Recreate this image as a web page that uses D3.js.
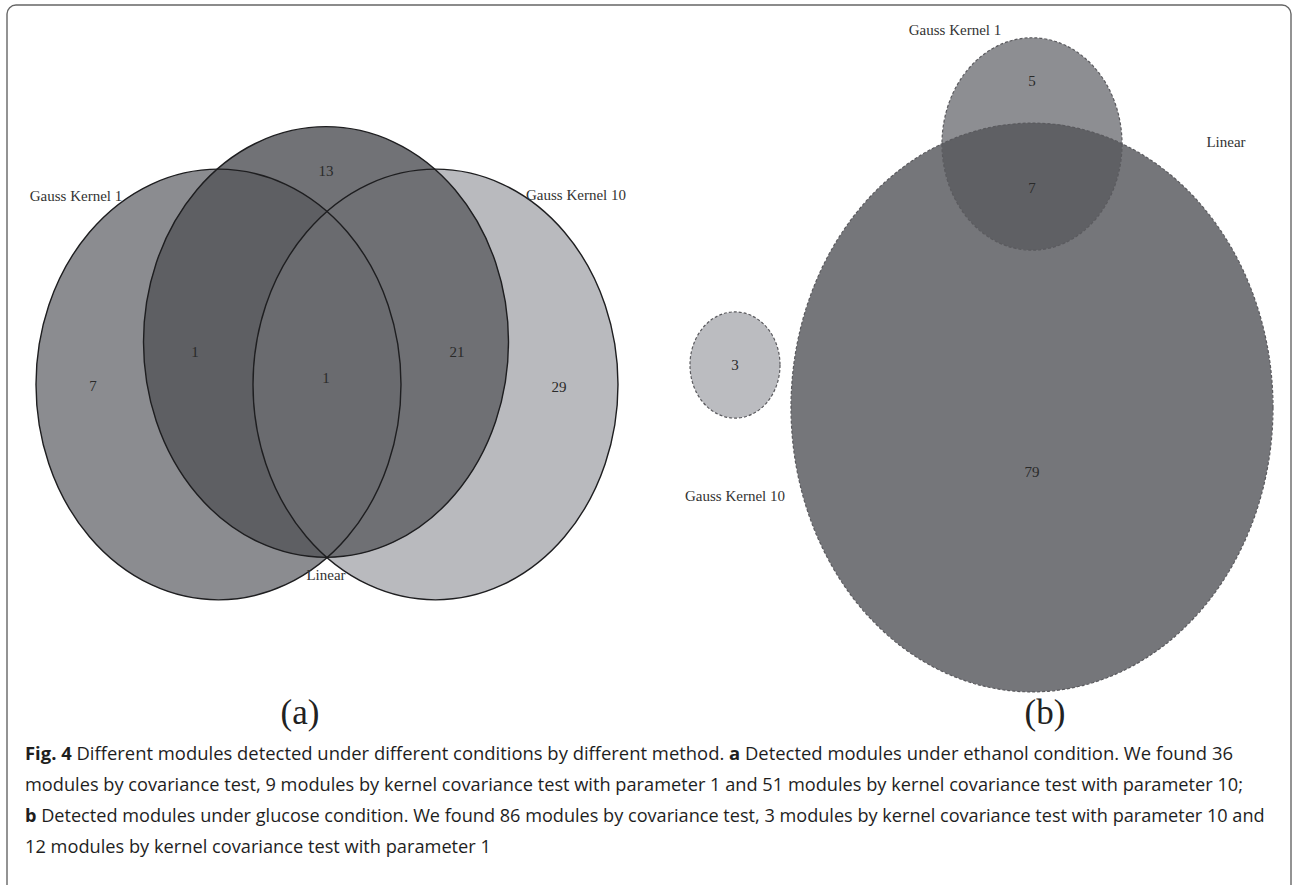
<!DOCTYPE html>
<html><head><meta charset="utf-8">
<script src="https://cdn.jsdelivr.net/npm/d3@7"></script>
<style>html,body{margin:0;padding:0;background:#fff;} svg{display:block}</style>
</head><body><svg id="fig" width="1294" height="885"></svg>
<script>
// ---------- data ----------
const setsA = ["Gauss Kernel 1", "Linear", "Gauss Kernel 10"];
const setSizesA = [9, 36, 51];
const regionsA = ["G1 only", "G1 & Linear", "Linear only", "All three", "Linear & G10", "G10 only"];
const countsA = [7, 1, 13, 1, 21, 29];

const setsB = ["Gauss Kernel 1", "Linear", "Gauss Kernel 10"];
const setSizesB = [12, 86, 3];
const regionsB = ["G1 only", "G1 & Linear", "Linear only", "G10 only"];
const countsB = [5, 7, 79, 3];

const panelLabels = ["(a)", "(b)"];
const captionLines = [
  [["Fig. 4", true], [" Different modules detected under different conditions by different method. ", false], ["a", true], [" Detected modules under ethanol condition. We found 36", false]],
  [["modules by covariance test, 9 modules by kernel covariance test with parameter 1 and 51 modules by kernel covariance test with parameter 10;", false]],
  [["b", true], [" Detected modules under glucose condition. We found 86 modules by covariance test, 3 modules by kernel covariance test with parameter 10 and", false]],
  [["12 modules by kernel covariance test with parameter 1", false]]
];

// ---------- layout ----------
const svg = d3.select("#fig");
const defs = svg.append("defs");
const serif = "'Liberation Serif', 'Times New Roman', serif";
const stretch = 1.18;

// frame
svg.append("rect").attr("x", 7).attr("y", 5).attr("width", 1284).attr("height", 920)
  .attr("rx", 9).attr("fill", "none").attr("stroke", "#666").attr("stroke-width", 1.4);

// ---------- panel A ----------
const gA = svg.append("g");
const centersA = [[218.5, 384.5], [326, 342], [435.5, 384.5]];
const rxA = d3.scaleOrdinal().domain(setsA).range([182.5, 182.5, 182.5]);
const fillA = d3.scaleOrdinal().domain(setsA).range(["#8b8c90", "#717276", "#b9babe"]);
const ellA = setsA.map((s, i) => ({name: s, size: setSizesA[i], cx: centersA[i][0], cy: centersA[i][1], rx: rxA(s), ry: rxA(s) * stretch}));

ellA.forEach((e, i) => {
  defs.append("clipPath").attr("id", "cA" + i).append("ellipse")
    .attr("cx", e.cx).attr("cy", e.cy).attr("rx", e.rx).attr("ry", e.ry);
});
function ell(g, e) {
  return g.append("ellipse").attr("cx", e.cx).attr("cy", e.cy).attr("rx", e.rx).attr("ry", e.ry);
}
// base fills: G1, G10, then Linear
[0, 2, 1].forEach(i => ell(gA, ellA[i]).attr("fill", fillA(ellA[i].name)));
// G1 & Linear
ell(gA.append("g").attr("clip-path", "url(#cA0)"), ellA[1]).attr("fill", "#5e5f63");
// Linear & G10
ell(gA.append("g").attr("clip-path", "url(#cA2)"), ellA[1]).attr("fill", "#6f7074");
// all three
ell(gA.append("g").attr("clip-path", "url(#cA0)").append("g").attr("clip-path", "url(#cA2)"), ellA[1]).attr("fill", "#6a6b6f");
// outlines
gA.selectAll("ellipse.outline").data(ellA).join("ellipse").attr("class", "outline")
  .attr("cx", d => d.cx).attr("cy", d => d.cy).attr("rx", d => d.rx).attr("ry", d => d.ry)
  .attr("fill", "none").attr("stroke", "#1e1e20").attr("stroke-width", 1.4);

const setLabelPosA = [[76, 196], [326, 575], [576, 195]];
gA.selectAll("text.set").data(setsA).join("text").attr("class", "set")
  .attr("x", (d, i) => setLabelPosA[i][0]).attr("y", (d, i) => setLabelPosA[i][1])
  .attr("text-anchor", "middle").attr("dominant-baseline", "central")
  .attr("font-family", serif).attr("font-size", 15).attr("fill", "#333").text(d => d);
const regionPosA = [[93, 386], [195, 352], [326, 171], [326, 378], [457, 352], [559, 387]];
gA.selectAll("text.cnt").data(countsA).join("text").attr("class", "cnt")
  .attr("x", (d, i) => regionPosA[i][0]).attr("y", (d, i) => regionPosA[i][1])
  .attr("text-anchor", "middle").attr("dominant-baseline", "central")
  .attr("font-family", serif).attr("font-size", 15).attr("fill", "#2a2a2a").text(d => d);

// ---------- panel B (area proportional) ----------
const gB = svg.append("g");
const rScaleB = d3.scaleSqrt().domain([0, d3.max(setSizesB)]).range([0, 241]);
const centersB = [[1032, 144], [1032, 407.5], [735, 365]];
const fillB = d3.scaleOrdinal().domain(setsB).range(["#8d8e92", "#75767a", "#bbbcc0"]);
const ellB = setsB.map((s, i) => ({name: s, size: setSizesB[i], cx: centersB[i][0], cy: centersB[i][1], rx: rScaleB(setSizesB[i]), ry: rScaleB(setSizesB[i]) * stretch}));
ellB.forEach((e, i) => {
  defs.append("clipPath").attr("id", "cB" + i).append("ellipse")
    .attr("cx", e.cx).attr("cy", e.cy).attr("rx", e.rx).attr("ry", e.ry);
});
[1, 0, 2].forEach(i => ell(gB, ellB[i]).attr("fill", fillB(ellB[i].name)));
ell(gB.append("g").attr("clip-path", "url(#cB0)"), ellB[1]).attr("fill", "#5f6064");
gB.selectAll("ellipse.outline").data(ellB).join("ellipse").attr("class", "outline")
  .attr("cx", d => d.cx).attr("cy", d => d.cy).attr("rx", d => d.rx).attr("ry", d => d.ry)
  .attr("fill", "none").attr("stroke", "#5a5a5e").attr("stroke-width", 1.2).attr("stroke-dasharray", "3,2");

const setLabelPosB = [[955, 30], [1226, 142], [735, 496]];
gB.selectAll("text.set").data(setsB).join("text").attr("class", "set")
  .attr("x", (d, i) => setLabelPosB[i][0]).attr("y", (d, i) => setLabelPosB[i][1])
  .attr("text-anchor", "middle").attr("dominant-baseline", "central")
  .attr("font-family", serif).attr("font-size", 15).attr("fill", "#333").text(d => d);
const regionPosB = [[1032, 81], [1032, 188], [1032, 472], [735, 365]];
gB.selectAll("text.cnt").data(countsB).join("text").attr("class", "cnt")
  .attr("x", (d, i) => regionPosB[i][0]).attr("y", (d, i) => regionPosB[i][1])
  .attr("text-anchor", "middle").attr("dominant-baseline", "central")
  .attr("font-family", serif).attr("font-size", 15).attr("fill", "#2a2a2a").text(d => d);

// ---------- panel labels ----------
const panelPos = [[300, 712], [1045, 712]];
svg.selectAll("text.panel").data(panelLabels).join("text").attr("class", "panel")
  .attr("x", (d, i) => panelPos[i][0]).attr("y", (d, i) => panelPos[i][1])
  .attr("text-anchor", "middle").attr("dominant-baseline", "central")
  .attr("font-family", serif).attr("font-size", 35).attr("fill", "#222").text(d => d);

// ---------- caption ----------
const capX = 25, capY0 = 760, capDy = 31;
const capRight = [1234, 1244, 1266, 491];
captionLines.forEach((segs, li) => {
  const t = svg.append("text").attr("x", 0).attr("y", 0)
    .attr("font-family", "'Open Sans', 'Noto Sans', sans-serif").attr("font-size", 18.5).attr("fill", "#1e1e1e");
  segs.forEach(([s, b]) => t.append("tspan").attr("font-weight", b ? 700 : 400).text(s));
  const w = t.node().getComputedTextLength();
  const sx = (capRight[li] - capX) / w;
  t.attr("transform", `translate(${capX},${capY0 + li * capDy}) scale(${sx},1)`);
});
</script></body></html>
